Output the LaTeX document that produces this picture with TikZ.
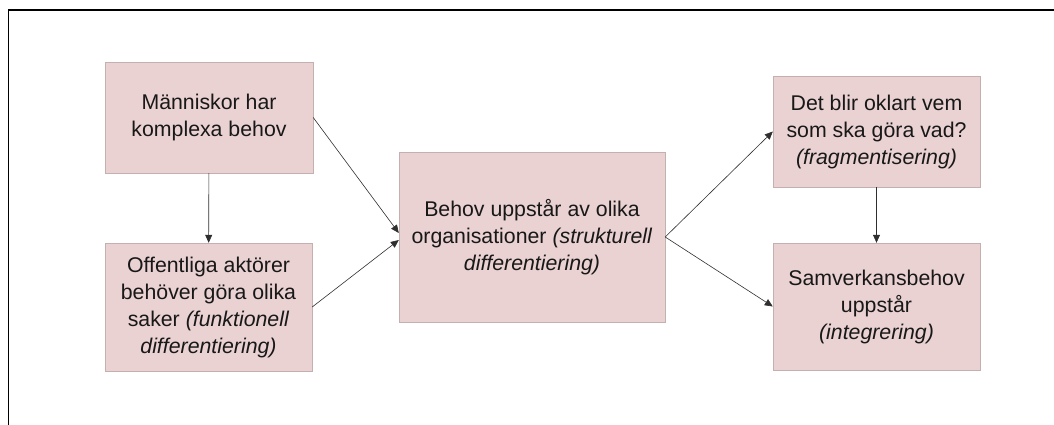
\documentclass[tikz,border=0pt]{standalone}
\usepackage{fontspec}
\setmainfont{Liberation Sans}
\usepackage{xcolor}
\definecolor{boxrose}{RGB}{234,209,210}
\definecolor{boxedge}{RGB}{196,176,177}
\definecolor{inkgrey}{RGB}{24,24,24}
\usetikzlibrary{positioning,arrows.meta}
\tikzset{
  box/.style ={rectangle,draw=boxedge,fill=boxrose,text=inkgrey,align=center,
               inner sep=0pt,font=\fontsize{21.3}{27}\selectfont},
  flow/.style={-{Triangle[length=8pt,width=7pt]},line width=0.6pt,draw=inkgrey!90},
}
\begin{document}
\begin{tikzpicture}[x=1pt,y=-1pt]
  \useasboundingbox (0,0) rectangle (1054,425);
  % frame along the top and left
  \draw[line width=1.5pt] (8.5,425) -- (8.5,10) -- (1054,10);

  \node[box,minimum width=208pt,minimum height=111pt] (people) at (209,117.5)
    {Människor har\\komplexa behov};
  \node[box,minimum width=207pt,minimum height=128pt] (actors) at (208.5,307)
    {Offentliga aktörer\\behöver göra olika\\saker \textit{(funktionell}\\\textit{differentiering)}};
  \node[box,minimum width=266pt,minimum height=170pt] (struct) at (532,237)
    {Behov uppstår av olika\\organisationer \textit{(strukturell}\\\textit{differentiering)}};
  \node[box,minimum width=207pt,minimum height=111pt] (frag) at (876.5,131.5)
    {Det blir oklart vem\\som ska göra vad?\\\textit{(fragmentisering)}};
  \node[box,minimum width=207pt,minimum height=127pt] (integ) at (876.5,306.5)
    {Samverkansbehov\\uppstår\\\textit{(integrering)}};

  \draw[flow] (people) -- (actors);
  \draw[flow] (people.east) -- ([yshift=4pt]struct.west);
  \draw[flow] (actors.east) -- ([yshift=-3pt]struct.west);
  \draw[flow] (struct.east) -- (frag.west);
  \draw[flow] (struct.east) -- (integ.west);
  \draw[flow] (frag) -- (integ);
\end{tikzpicture}
\end{document}
